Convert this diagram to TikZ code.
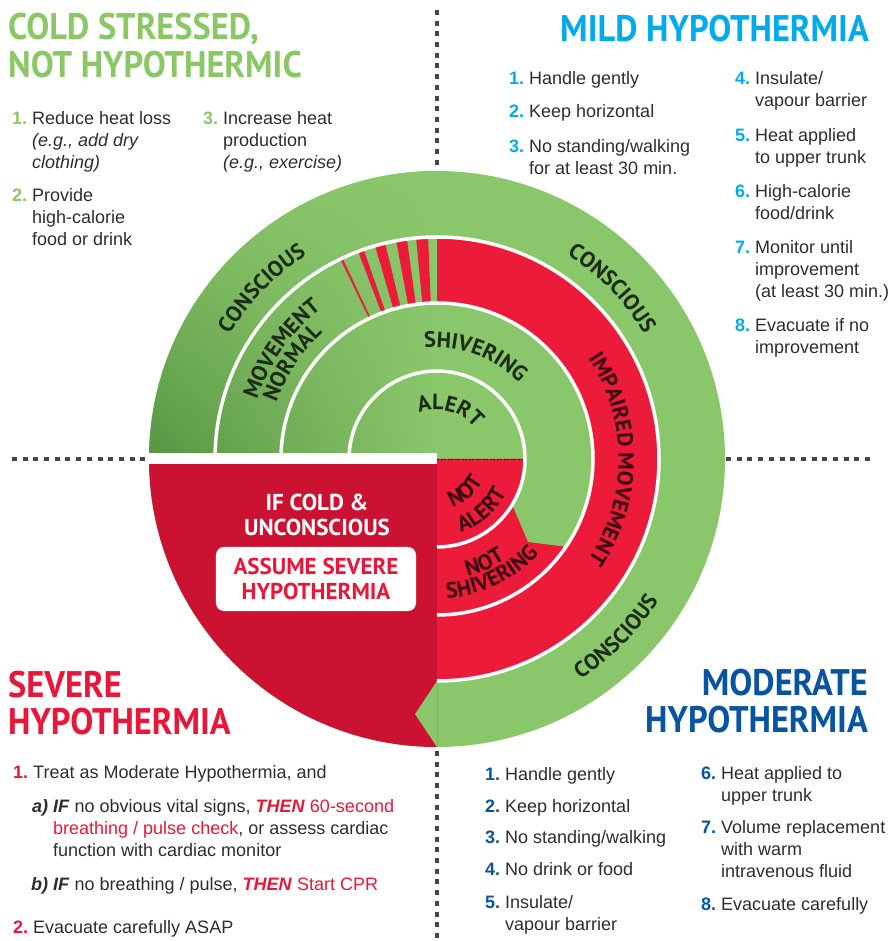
\documentclass[tikz,border=0pt]{standalone}
\usepackage{fontspec}
\setmainfont{Liberation Sans}
\newfontfamily\ptsans{PT Sans}
\newfontfamily\ptnarrow[FakeStretch=0.93]{PT Sans}
\usetikzlibrary{decorations.text,shadings}
\definecolor{greenl}{RGB}{138,198,106}
\definecolor{greend}{RGB}{86,148,66}
\definecolor{redb}{RGB}{237,27,58}
\definecolor{redd}{RGB}{204,18,50}
\definecolor{titlegreen}{RGB}{139,199,101}
\definecolor{mildblue}{RGB}{0,170,235}
\definecolor{modblue}{RGB}{8,84,160}
\definecolor{sevred}{RGB}{232,23,58}
\definecolor{txt}{RGB}{45,45,45}
\definecolor{ongreen}{RGB}{28,42,24}
\definecolor{onred}{RGB}{58,10,18}
\definecolor{dots}{RGB}{70,70,70}
\newcommand\ringfont{\fontsize{22}{24}\selectfont\ptsans\bfseries}
\newcommand\boxfont{\fontsize{23}{24.5}\selectfont\ptsans\bfseries}
\newcommand\greenlab{\ringfont\color{ongreen}}
\newcommand\redlab{\ringfont\color{onred}}
\newcommand\titlefont{\fontsize{37}{37}\selectfont\ptnarrow\bfseries}
\newcommand\itemnum[2]{\llap{\textcolor{#1}{\textbf{#2}}\hspace{5pt}}}
\begin{document}
\begin{tikzpicture}[x=1pt,y=1pt,
  item/.style={anchor=base west, align=left, inner sep=0pt, text=txt, font=\fontsize{18}{22}\selectfont},
  title/.style={inner sep=0pt, font=\titlefont},
  dotline/.style={draw=dots, line width=4pt, dash pattern=on 5pt off 5.7pt},
  ringline/.style={draw=white, line width=3.5pt},
  arclabel/.style={decorate, decoration={text along path, text align=center, text={#1}}}]
\useasboundingbox (-437,-482) rectangle (452,459);
\fill[greenl] (0,0) circle (288);
\shade[lower left=greend, upper left=greenl, lower right=greenl, upper right=greenl] (0,0) -- (180:288) arc[start angle=180, end angle=90, radius=288] -- cycle;
\fill[redd] (0,0) -- (180:288) arc[start angle=180, end angle=270, radius=288] -- cycle;
\fill[white] (-292,6) rectangle (0,-5);
\fill[redb] (90:156) arc[start angle=90, end angle=-90, radius=156] -- (-90:222) arc[start angle=-90, end angle=90, radius=222] -- cycle;
\foreach \a/\b in {115.8/115.2, 110.8/109.3, 106.2/103.5, 100.6/97.8, 95.4/92.3}
  \fill[redb] (\a:156) arc[start angle=\a, end angle=\b, radius=156] -- (\b:222) arc[start angle=\b, end angle=\a, radius=222] -- cycle;
\fill[redb] (0,0) -- (0:88) arc[start angle=0, end angle=-90, radius=88] -- cycle;
\fill[redb] (-90:88) arc[start angle=-90, end angle=-31.5, radius=88] -- (91,-83) -- (-34.3:156) arc[start angle=-34.3, end angle=-90, radius=156] -- cycle;
\fill[greenl] (0,-222) -- (-22,-255) -- (0,-288) -- cycle;
\draw[onred, dash pattern=on 2pt off 1.5pt, line width=0.5pt] (0,0) -- (88,0);
\foreach \r in {88,156,222}
  \draw[ringline] (-90:\r) arc[start angle=-90, end angle=180, radius=\r];
%Ring labels
\path[arclabel={|\greenlab|ALERT}] (165:49) arc[start angle=165, end angle=-15, radius=49];
\path[arclabel={|\greenlab|SHIVERING}] (159.5:111.5) arc[start angle=159.5, end angle=-20.5, radius=111.5];
\path[arclabel={|\greenlab|MOVEMENT}] (234.7:189.5) arc[start angle=234.7, end angle=54.7, radius=189.5];
\path[arclabel={|\greenlab|NORMAL}] (236.5:170) arc[start angle=236.5, end angle=56.5, radius=170];
\path[arclabel={|\greenlab|CONSCIOUS}] (225.8:242) arc[start angle=225.8, end angle=45.8, radius=242];
\path[arclabel={|\greenlab|CONSCIOUS}] (134.3:242) arc[start angle=134.3, end angle=-45.7, radius=242];
\path[arclabel={|\redlab|IMPAIRED MOVEMENT}] (90:181.5) arc[start angle=90, end angle=-90, radius=181.5];
\path[arclabel={|\greenlab|CONSCIOUS}] (-134.8:263) arc[start angle=-134.8, end angle=45.2, radius=263];
\path[arclabel={|\redlab|NOT}] (-139:50.5) arc[start angle=-139, end angle=41, radius=50.5];
\path[arclabel={|\redlab|ALERT}] (-139:77) arc[start angle=-139, end angle=41, radius=77];
\path[arclabel={|\redlab|NOT}] (-155.5:121.5) arc[start angle=-155.5, end angle=24.5, radius=121.5];
\path[arclabel={|\redlab|SHIVERING}] (-154.5:139.5) arc[start angle=-154.5, end angle=25.5, radius=139.5];
\node[font=\boxfont, text=white, align=center] (ifcold) at (-120,-56) {IF COLD \&\\UNCONSCIOUS};
\node[fill=white, rounded corners=8pt, minimum width=200pt, minimum height=64pt, text=sevred, align=center, font=\boxfont] (assume) at (-121,-120) {ASSUME SEVERE\\HYPOTHERMIA};
%Dotted axes
\draw[dotline] (0,449) -- (0,292);
\draw[dotline] (0,-292) -- (0,-481);
\draw[dotline] (-425,0) -- (-292,0);
\draw[dotline] (289,0) -- (433,0);
%Titles
\node[title, anchor=base west, align=left, text=titlegreen] (coldtitle) at (-429,381) {COLD STRESSED,\\[1pt]NOT HYPOTHERMIC};
\node[title, anchor=base east, text=mildblue] (mildtitle) at (432,417) {MILD HYPOTHERMIA};
\node[title, anchor=base west, align=left, text=sevred] (sevtitle) at (-429,-275) {SEVERE\\HYPOTHERMIA};
\node[title, anchor=base east, align=right, text=modblue] (modtitle) at (431,-273) {MODERATE\\HYPOTHERMIA};
%Cold stressed
\node[item] (cold1) at (-405,290) {\itemnum{titlegreen}{1.}Reduce heat loss\\\textit{(e.g., add dry}\\\textit{clothing)}};
\node[item] (cold2) at (-405,213) {\itemnum{titlegreen}{2.}Provide\\high-calorie\\food or drink};
\node[item] (cold3) at (-214,290) {\itemnum{titlegreen}{3.}Increase heat\\production\\\textit{(e.g., exercise)}};
%Mild
\node[item] (mild1) at (92,374) {\itemnum{mildblue}{1.}Handle gently};
\node[item] (mild2) at (92,341) {\itemnum{mildblue}{2.}Keep horizontal};
\node[item] (mild3) at (92,284) {\itemnum{mildblue}{3.}No standing/walking\\for at least 30 min.};
\node[item] (mild4) at (318,352) {\itemnum{mildblue}{4.}Insulate/\\vapour barrier};
\node[item] (mild5) at (318,295) {\itemnum{mildblue}{5.}Heat applied\\to upper trunk};
\node[item] (mild6) at (318,239) {\itemnum{mildblue}{6.}High-calorie\\food/drink};
\node[item] (mild7) at (318,161) {\itemnum{mildblue}{7.}Monitor until\\improvement\\(at least 30 min.)};
\node[item] (mild8) at (318,105) {\itemnum{mildblue}{8.}Evacuate if no\\improvement};
%Moderate
\node[item] (mod1) at (68,-321) {\itemnum{modblue}{1.}Handle gently};
\node[item] (mod2) at (68,-353) {\itemnum{modblue}{2.}Keep horizontal};
\node[item] (mod3) at (68,-384) {\itemnum{modblue}{3.}No standing/walking};
\node[item] (mod4) at (68,-416) {\itemnum{modblue}{4.}No drink or food};
\node[item] (mod5) at (68,-471) {\itemnum{modblue}{5.}Insulate/\\vapour barrier};
\node[item] (mod6) at (284,-342) {\itemnum{modblue}{6.}Heat applied to\\upper trunk};
\node[item] (mod7) at (284,-418) {\itemnum{modblue}{7.}Volume replacement\\with warm\\intravenous fluid};
\node[item] (mod8) at (284,-451) {\itemnum{modblue}{8.}Evacuate carefully};
%Severe
\node[item] (sev1) at (-404,-319) {\itemnum{sevred}{1.}Treat as Moderate Hypothermia, and};
\node[item] (seva) at (-384,-397) {\llap{\textbf{\textit{a)}}\ }\textbf{\textit{IF}} no obvious vital signs, \textcolor{sevred}{\textbf{\textit{THEN}} 60-second}\\\textcolor{sevred}{breathing / pulse check}, or assess cardiac\\function with cardiac monitor};
\node[item] (sevb) at (-384,-431) {\llap{\textbf{\textit{b)}}\ }\textbf{\textit{IF}} no breathing / pulse, \textcolor{sevred}{\textbf{\textit{THEN}} Start CPR}};
\node[item] (sev2) at (-404,-474) {\itemnum{sevred}{2.}Evacuate carefully ASAP};
\end{tikzpicture}
\end{document}
